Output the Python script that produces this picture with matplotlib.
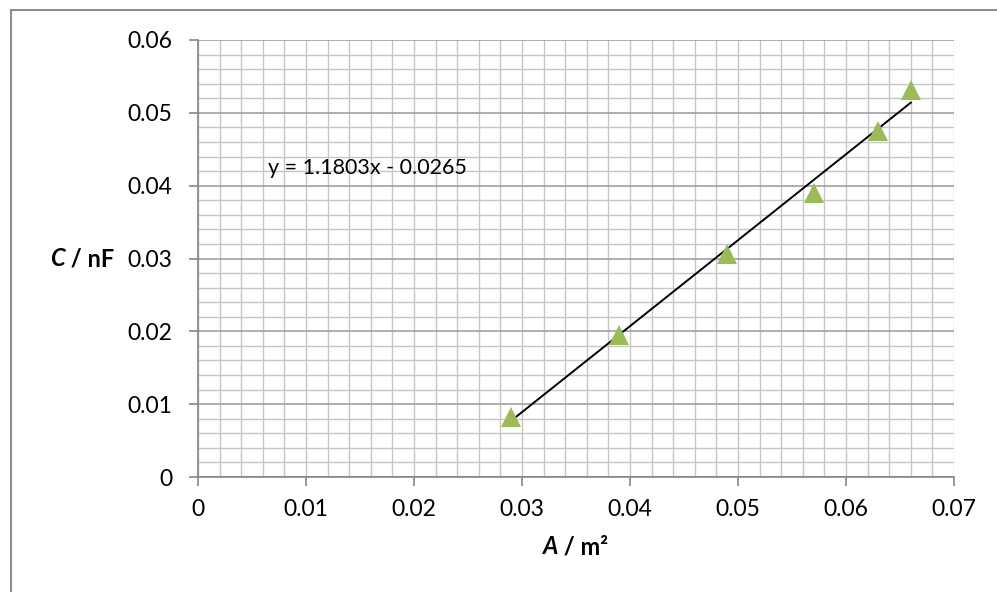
import numpy as np
import matplotlib.pyplot as plt
from matplotlib.ticker import MultipleLocator
from matplotlib.lines import Line2D

plt.rcParams['font.family'] = ['Lato', 'DejaVu Sans']

# datos
area = [0.029, 0.039, 0.049, 0.057, 0.063, 0.066]
cap = [0.0083, 0.0195, 0.0306, 0.039, 0.0475, 0.0532]

# linea de tendencia (de la etiqueta)
pendiente = 1.1803
ordenada = -0.0265
eq_label = 'y = 1.1803x - 0.0265'

x_ticks = [0, 0.01, 0.02, 0.03, 0.04, 0.05, 0.06, 0.07]
x_tick_labels = ['0', '0.01', '0.02', '0.03', '0.04', '0.05', '0.06', '0.07']
y_ticks = [0, 0.01, 0.02, 0.03, 0.04, 0.05, 0.06]
y_tick_labels = ['0', '0.01', '0.02', '0.03', '0.04', '0.05', '0.06']

fig = plt.figure(figsize=(9.97, 5.92), dpi=100)
ax = fig.add_axes([198/997, 1 - 477/592, (954 - 198)/997, (477 - 40)/592])

# borde del area del grafico (solo izquierda y arriba visibles)
fig.add_artist(Line2D([11/997, 11/997], [0, 1 - 10/592], transform=fig.transFigure,
                      color='#8c8c8c', lw=1.5))
fig.add_artist(Line2D([11/997, 1], [1 - 10/592, 1 - 10/592], transform=fig.transFigure,
                      color='#8c8c8c', lw=1.5))

ax.set_xlim(0, 0.07)
ax.set_ylim(0, 0.06)
ax.set_xticks(x_ticks)
ax.set_xticklabels(x_tick_labels)
ax.set_yticks(y_ticks)
ax.set_yticklabels(y_tick_labels)
ax.xaxis.set_minor_locator(MultipleLocator(0.002))
ax.yaxis.set_minor_locator(MultipleLocator(0.002))

ax.grid(which='minor', color='#c6c6c6', lw=1.0)
ax.grid(which='major', axis='x', color='#c6c6c6', lw=1.0)
ax.grid(which='major', axis='y', color='#a0a0a0', lw=1.2)
ax.set_axisbelow(True)

for s in ['top', 'right']:
    ax.spines[s].set_visible(False)
for s in ['left', 'bottom']:
    ax.spines[s].set_color('#868686')
    ax.spines[s].set_linewidth(1.2)

ax.tick_params(which='major', direction='out', length=6.5, width=1.2, color='#868686',
               labelsize=16.5, pad=9)
ax.tick_params(axis='y', pad=12)
ax.tick_params(which='minor', length=0)

# linea de tendencia
xt = np.array([min(area), max(area)])
ax.plot(xt, pendiente * xt + ordenada, color='black', lw=1.4, zorder=3)

ax.plot(area, cap, linestyle='none', marker='^', markersize=14.5,
        color='#9bbb59', markeredgewidth=0, zorder=4, clip_on=False)

ax.text(268/997, 1 - 168/592, eq_label, transform=fig.transFigure,
        fontsize=15.5, va='center', ha='left')

# etiquetas de ejes con parte en cursiva
t1 = fig.text(50/997, 1 - 259/592, 'C', fontsize=17, fontweight='bold',
              fontstyle='italic', va='center', ha='left')
ax.annotate(' / nF', xy=(1, 0.5), xycoords=t1, va='center', ha='left',
            fontsize=17, fontweight='bold')

t2 = fig.text(543/997, 1 - 547/592, 'A', fontsize=17, fontweight='bold',
              fontstyle='italic', va='center', ha='left')
ax.annotate(' / m²', xy=(1, 0.5), xycoords=t2, va='center', ha='left',
            fontsize=17, fontweight='bold')

fig.savefig('out.png', dpi=100)
